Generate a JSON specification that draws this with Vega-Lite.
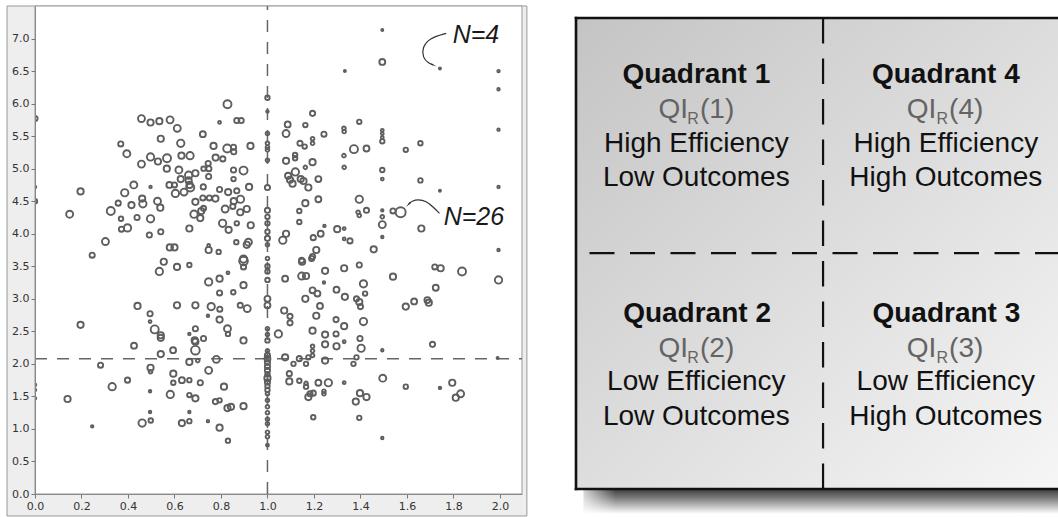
{
  "$schema": "https://vega.github.io/schema/vega-lite/v6.json",
  "background": "white",
  "padding": {"left": 5, "top": 5, "right": 0, "bottom": 0},
  "spacing": 38,
  "config": {"view": {"stroke": null}},
  "datasets": {
    "frame": [{"x": -0.1204, "x2": 2.116, "y": -0.338, "y2": 7.5}],
    "plotbg": [{"x": 0, "x2": 2.095, "y": 0, "y2": 7.5}],
    "refv": [{"x": 1.0, "y": 0, "y2": 7.5}],
    "refh": [{"x": 0, "x2": 2.095, "y": 2.08}],
    "pts": [
      {"x":0,"y":5.77,"n":12},{"x":0,"y":4.72,"n":5},{"x":0,"y":4.5,"n":10},{"x":0,"y":1.68,"n":5},{"x":0,"y":1.6,"n":5},{"x":0,"y":1.47,"n":5},
      {"x":0.828,"y":5.99,"n":20},{"x":0.458,"y":5.77,"n":17},{"x":0.497,"y":5.71,"n":15},{"x":0.535,"y":5.73,"n":15},{"x":0.581,"y":5.75,"n":17},{"x":0.612,"y":5.62,"n":17},{"x":0.722,"y":5.53,"n":14},{"x":0.794,"y":5.71,"n":6},{"x":0.868,"y":5.74,"n":12},{"x":0.887,"y":5.74,"n":12},
      {"x":0.369,"y":5.38,"n":12},{"x":0.541,"y":5.46,"n":15},{"x":0.627,"y":5.39,"n":18},{"x":0.395,"y":5.23,"n":17},{"x":0.497,"y":5.18,"n":18},{"x":0.458,"y":5.07,"n":17},{"x":0.529,"y":5.11,"n":15},{"x":0.568,"y":5.16,"n":20},{"x":0.567,"y":5.0,"n":15},{"x":0.63,"y":5.2,"n":15},{"x":0.667,"y":5.2,"n":18},
      {"x":0.768,"y":5.35,"n":15},{"x":0.827,"y":5.31,"n":20},{"x":0.854,"y":5.33,"n":12},{"x":0.855,"y":5.26,"n":12},{"x":0.927,"y":5.35,"n":15},{"x":0.777,"y":5.17,"n":15},{"x":0.808,"y":5.15,"n":12},{"x":0.745,"y":5.08,"n":12},{"x":0.748,"y":5.0,"n":12},{"x":0.725,"y":5.0,"n":10},
      {"x":0.619,"y":4.98,"n":17},{"x":0.661,"y":4.9,"n":18},{"x":0.69,"y":4.93,"n":15},{"x":0.897,"y":4.97,"n":20},{"x":0.854,"y":4.98,"n":12},{"x":0.747,"y":4.88,"n":12},{"x":0.854,"y":4.84,"n":10},{"x":0.627,"y":4.84,"n":15},{"x":0.661,"y":4.82,"n":15},{"x":0.668,"y":4.71,"n":20},{"x":0.578,"y":4.75,"n":14},{"x":0.6,"y":4.75,"n":12},{"x":0.724,"y":4.72,"n":12},{"x":0.604,"y":4.62,"n":18},{"x":0.641,"y":4.64,"n":17},{"x":0.665,"y":4.75,"n":15},
      {"x":0.425,"y":4.75,"n":17},{"x":0.497,"y":4.72,"n":5},{"x":0.386,"y":4.63,"n":18},{"x":0.196,"y":4.65,"n":15},{"x":0.149,"y":4.3,"n":17},{"x":0.326,"y":4.35,"n":20},{"x":0.358,"y":4.47,"n":12},{"x":0.415,"y":4.44,"n":15},{"x":0.461,"y":4.54,"n":15},{"x":0.464,"y":4.46,"n":18},{"x":0.527,"y":4.5,"n":17},{"x":0.539,"y":4.4,"n":15},{"x":0.497,"y":4.23,"n":18},{"x":0.439,"y":4.25,"n":12},{"x":0.37,"y":4.23,"n":10},{"x":0.398,"y":4.09,"n":18},{"x":0.372,"y":4.07,"n":12},{"x":0.492,"y":3.98,"n":12},{"x":0.541,"y":4.03,"n":12},
      {"x":0.69,"y":4.49,"n":15},{"x":0.722,"y":4.55,"n":12},{"x":0.75,"y":4.55,"n":12},{"x":0.776,"y":4.54,"n":15},{"x":0.715,"y":4.35,"n":15},{"x":0.725,"y":4.39,"n":12},{"x":0.684,"y":4.3,"n":18},{"x":0.711,"y":4.24,"n":15},{"x":0.794,"y":4.68,"n":12},{"x":0.831,"y":4.64,"n":15},{"x":0.868,"y":4.66,"n":12},{"x":0.921,"y":4.72,"n":15},{"x":0.855,"y":4.5,"n":15},{"x":0.884,"y":4.53,"n":18},{"x":0.818,"y":4.38,"n":17},{"x":0.851,"y":4.42,"n":12},{"x":0.883,"y":4.33,"n":15},{"x":0.911,"y":4.38,"n":15},{"x":0.807,"y":4.16,"n":18},{"x":0.833,"y":4.06,"n":15},{"x":0.868,"y":4.16,"n":10},{"x":0.928,"y":4.13,"n":15},{"x":0.664,"y":4.08,"n":15},{"x":0.866,"y":3.87,"n":10},{"x":0.911,"y":3.83,"n":15},{"x":0.918,"y":3.87,"n":17},{"x":0.303,"y":3.88,"n":17},{"x":0.246,"y":3.67,"n":12},{"x":0.58,"y":3.79,"n":15},{"x":0.6,"y":3.79,"n":15},{"x":0.747,"y":3.75,"n":15},{"x":0.79,"y":3.72,"n":10},{"x":0.747,"y":3.82,"n":6},{"x":0.897,"y":3.61,"n":18},
      {"x":1.0,"y":6.09,"n":10},{"x":1.0,"y":5.88,"n":5},{"x":1.0,"y":5.54,"n":8},{"x":1.0,"y":5.39,"n":8},{"x":1.0,"y":5.33,"n":8},{"x":1.0,"y":5.29,"n":8},{"x":1.0,"y":5.13,"n":8},{"x":1.0,"y":4.71,"n":12},{"x":1.0,"y":4.36,"n":12},{"x":1.0,"y":4.26,"n":10},{"x":1.0,"y":4.16,"n":10},{"x":1.0,"y":4.03,"n":10},{"x":1.0,"y":3.93,"n":12},{"x":1.0,"y":3.83,"n":8},{"x":1.0,"y":3.62,"n":8},{"x":1.0,"y":3.5,"n":10},{"x":1.0,"y":3.42,"n":10},{"x":1.0,"y":3.29,"n":10},{"x":1.0,"y":3.0,"n":14},{"x":1.0,"y":2.9,"n":14},{"x":1.0,"y":2.54,"n":8},{"x":1.0,"y":2.45,"n":8},{"x":1.0,"y":2.36,"n":10},{"x":1.0,"y":2.2,"n":8},{"x":1.0,"y":2.13,"n":12},{"x":1.0,"y":2.08,"n":14},{"x":1.0,"y":2.02,"n":12},{"x":1.0,"y":1.96,"n":12},{"x":1.0,"y":1.9,"n":12},{"x":1.0,"y":1.84,"n":10},{"x":1.0,"y":1.78,"n":15},{"x":1.0,"y":1.72,"n":12},{"x":1.0,"y":1.66,"n":10},{"x":1.0,"y":1.6,"n":10},{"x":1.0,"y":1.54,"n":8},{"x":1.0,"y":1.44,"n":8},{"x":1.0,"y":1.34,"n":8},{"x":1.0,"y":1.25,"n":8},{"x":1.0,"y":1.15,"n":8},{"x":1.0,"y":1.08,"n":8},{"x":1.0,"y":0.95,"n":8},{"x":1.0,"y":0.88,"n":8},{"x":1.0,"y":0.75,"n":6},
      {"x":1.494,"y":7.13,"n":4},{"x":1.494,"y":6.64,"n":14},{"x":1.333,"y":6.5,"n":4},{"x":1.742,"y":6.54,"n":4},{"x":1.994,"y":6.5,"n":5},{"x":1.994,"y":6.22,"n":5},{"x":1.994,"y":5.6,"n":5},{"x":1.494,"y":5.59,"n":6},{"x":1.494,"y":5.54,"n":6},{"x":1.494,"y":5.48,"n":6},{"x":1.494,"y":5.42,"n":10},{"x":1.658,"y":5.39,"n":10},{"x":1.595,"y":5.29,"n":10},{"x":1.426,"y":5.31,"n":14},{"x":1.372,"y":5.3,"n":20},{"x":1.329,"y":5.2,"n":8},{"x":1.33,"y":5.02,"n":8},{"x":1.494,"y":4.98,"n":10},{"x":1.494,"y":4.84,"n":6},{"x":1.658,"y":4.82,"n":10},{"x":1.742,"y":4.66,"n":4},{"x":1.994,"y":4.72,"n":5},{"x":1.395,"y":4.53,"n":18},{"x":1.426,"y":4.36,"n":12},{"x":1.39,"y":4.33,"n":8},{"x":1.494,"y":4.36,"n":5},{"x":1.54,"y":4.35,"n":12},{"x":1.573,"y":4.33,"n":26},{"x":1.494,"y":4.26,"n":8},{"x":1.494,"y":4.14,"n":17},{"x":1.662,"y":4.08,"n":15},{"x":1.494,"y":3.95,"n":5},{"x":1.994,"y":3.75,"n":5},{"x":1.457,"y":3.76,"n":15},{"x":1.33,"y":4.08,"n":6},{"x":1.33,"y":3.92,"n":6},{"x":1.355,"y":3.89,"n":12},{"x":1.3,"y":4.07,"n":15},{"x":1.245,"y":4.12,"n":5},{"x":1.229,"y":4.0,"n":14},{"x":1.197,"y":3.94,"n":12},{"x":1.21,"y":3.75,"n":15},{"x":1.19,"y":3.62,"n":12},{"x":1.147,"y":3.59,"n":12},{"x":1.08,"y":4.0,"n":15},{"x":1.066,"y":3.9,"n":18},{"x":1.137,"y":4.35,"n":10},{"x":1.137,"y":4.18,"n":10},{"x":1.219,"y":4.53,"n":14},{"x":1.163,"y":4.47,"n":15},{"x":1.395,"y":4.28,"n":8},
      {"x":1.194,"y":5.85,"n":12},{"x":1.087,"y":5.68,"n":14},{"x":1.163,"y":5.67,"n":10},{"x":1.08,"y":5.54,"n":17},{"x":1.243,"y":5.53,"n":12},{"x":1.329,"y":5.62,"n":8},{"x":1.33,"y":5.57,"n":8},{"x":1.395,"y":5.72,"n":10},{"x":1.14,"y":5.39,"n":12},{"x":1.16,"y":5.34,"n":10},{"x":1.194,"y":5.46,"n":8},{"x":1.194,"y":5.39,"n":8},{"x":1.119,"y":5.21,"n":10},{"x":1.119,"y":5.16,"n":10},{"x":1.08,"y":5.12,"n":15},{"x":1.194,"y":5.1,"n":15},{"x":1.163,"y":5.02,"n":8},{"x":1.12,"y":4.95,"n":18},{"x":1.089,"y":4.89,"n":15},{"x":1.097,"y":4.83,"n":15},{"x":1.108,"y":4.77,"n":15},{"x":1.143,"y":4.84,"n":15},{"x":1.155,"y":4.81,"n":15},{"x":1.176,"y":4.71,"n":15},{"x":1.219,"y":4.84,"n":14},
      {"x":0.554,"y":3.57,"n":15},{"x":0.535,"y":3.42,"n":18},{"x":0.611,"y":3.49,"n":15},{"x":0.664,"y":3.52,"n":10},{"x":0.441,"y":2.89,"n":15},{"x":0.495,"y":2.77,"n":12},{"x":0.495,"y":2.65,"n":6},{"x":0.515,"y":2.53,"n":20},{"x":0.541,"y":2.44,"n":15},{"x":0.541,"y":2.4,"n":15},{"x":0.611,"y":2.9,"n":15},{"x":0.69,"y":2.9,"n":15},{"x":0.196,"y":2.6,"n":15},{"x":0.426,"y":2.28,"n":14},{"x":0.541,"y":2.15,"n":15},{"x":0.594,"y":2.21,"n":14},{"x":0.664,"y":2.46,"n":5},{"x":0.69,"y":2.54,"n":12},{"x":0.69,"y":2.34,"n":15},{"x":0.69,"y":2.21,"n":22},{"x":0.664,"y":2.03,"n":15},{"x":0.282,"y":1.98,"n":12},{"x":0.497,"y":1.94,"n":15},{"x":0.497,"y":1.88,"n":8},{"x":0.398,"y":1.75,"n":12},{"x":0.332,"y":1.65,"n":18},{"x":0.14,"y":1.46,"n":15},{"x":0.595,"y":1.85,"n":15},{"x":0.595,"y":1.71,"n":10},{"x":0.632,"y":1.75,"n":14},{"x":0.664,"y":1.75,"n":10},{"x":0.582,"y":1.53,"n":18},{"x":0.664,"y":1.52,"n":10},{"x":0.69,"y":1.47,"n":15},{"x":0.495,"y":1.58,"n":5},{"x":0.495,"y":1.26,"n":5},{"x":0.461,"y":1.09,"n":18},{"x":0.498,"y":1.13,"n":10},{"x":0.632,"y":1.09,"n":15},{"x":0.664,"y":1.12,"n":10},{"x":0.664,"y":1.26,"n":5},{"x":0.246,"y":1.04,"n":5},
      {"x":0.687,"y":2.36,"n":15},{"x":0.725,"y":2.39,"n":12},{"x":0.7,"y":2.05,"n":8},{"x":0.747,"y":1.9,"n":17},{"x":0.78,"y":2.07,"n":17},{"x":0.711,"y":1.71,"n":12},{"x":0.776,"y":1.42,"n":12},{"x":0.794,"y":1.44,"n":10},{"x":0.813,"y":1.65,"n":15},{"x":0.828,"y":1.32,"n":15},{"x":0.843,"y":1.34,"n":15},{"x":0.897,"y":1.35,"n":15},{"x":0.794,"y":1.02,"n":15},{"x":0.83,"y":0.82,"n":10},{"x":0.744,"y":1.12,"n":5},{"x":0.747,"y":3.26,"n":18},{"x":0.794,"y":3.31,"n":15},{"x":0.83,"y":3.4,"n":6},{"x":0.897,"y":3.58,"n":22},{"x":0.897,"y":3.49,"n":12},{"x":0.897,"y":3.21,"n":15},{"x":0.794,"y":3.09,"n":12},{"x":0.853,"y":3.1,"n":10},{"x":0.758,"y":2.88,"n":18},{"x":0.795,"y":2.84,"n":12},{"x":0.744,"y":2.74,"n":5},{"x":0.794,"y":2.68,"n":15},{"x":0.883,"y":2.9,"n":12},{"x":0.913,"y":2.85,"n":17},{"x":0.828,"y":2.54,"n":17},{"x":0.83,"y":2.46,"n":10},{"x":0.897,"y":2.36,"n":15},
      {"x":1.076,"y":3.31,"n":14},{"x":1.149,"y":3.57,"n":15},{"x":1.194,"y":3.65,"n":12},{"x":1.147,"y":3.35,"n":17},{"x":1.166,"y":3.35,"n":15},{"x":1.248,"y":3.43,"n":15},{"x":1.243,"y":3.25,"n":5},{"x":1.33,"y":3.47,"n":15},{"x":1.395,"y":3.52,"n":12},{"x":1.194,"y":3.13,"n":14},{"x":1.215,"y":3.08,"n":14},{"x":1.163,"y":3.0,"n":15},{"x":1.297,"y":3.14,"n":14},{"x":1.333,"y":3.03,"n":15},{"x":1.383,"y":3.0,"n":12},{"x":1.395,"y":2.95,"n":15},{"x":1.4,"y":2.88,"n":12},{"x":1.42,"y":3.08,"n":10},{"x":1.226,"y":2.89,"n":14},{"x":1.072,"y":2.82,"n":15},{"x":1.097,"y":2.73,"n":12},{"x":1.097,"y":2.63,"n":12},{"x":1.21,"y":2.74,"n":15},{"x":1.047,"y":2.46,"n":18},{"x":1.194,"y":2.51,"n":15},{"x":1.248,"y":2.45,"n":15},{"x":1.295,"y":2.68,"n":12},{"x":1.33,"y":2.58,"n":15},{"x":1.295,"y":2.46,"n":12},{"x":1.33,"y":2.34,"n":6},{"x":1.248,"y":2.3,"n":15},{"x":1.297,"y":2.27,"n":15},{"x":1.194,"y":2.27,"n":8},{"x":1.194,"y":2.2,"n":8},{"x":1.194,"y":2.13,"n":8},{"x":1.398,"y":2.39,"n":12},{"x":1.403,"y":2.24,"n":18},{"x":1.076,"y":2.1,"n":15},{"x":1.112,"y":2.0,"n":10},{"x":1.137,"y":2.08,"n":12},{"x":1.166,"y":2.0,"n":10},{"x":1.176,"y":2.1,"n":10},{"x":1.248,"y":2.05,"n":15},{"x":1.37,"y":2.0,"n":10},{"x":1.383,"y":2.1,"n":10},
      {"x":1.094,"y":1.85,"n":12},{"x":1.094,"y":1.73,"n":15},{"x":1.137,"y":1.74,"n":10},{"x":1.166,"y":1.7,"n":8},{"x":1.166,"y":1.65,"n":10},{"x":1.219,"y":1.71,"n":14},{"x":1.262,"y":1.71,"n":18},{"x":1.33,"y":1.71,"n":6},{"x":1.197,"y":1.55,"n":12},{"x":1.176,"y":1.49,"n":15},{"x":1.183,"y":1.54,"n":12},{"x":1.243,"y":1.58,"n":8},{"x":1.243,"y":1.54,"n":8},{"x":1.197,"y":1.18,"n":10},{"x":1.38,"y":1.42,"n":15},{"x":1.398,"y":1.55,"n":15},{"x":1.426,"y":1.49,"n":15},{"x":1.395,"y":1.17,"n":10},
      {"x":1.72,"y":3.49,"n":12},{"x":1.745,"y":3.47,"n":15},{"x":1.837,"y":3.42,"n":20},{"x":1.994,"y":3.29,"n":18},{"x":1.54,"y":3.34,"n":15},{"x":1.413,"y":3.23,"n":18},{"x":1.724,"y":3.17,"n":14},{"x":1.595,"y":2.88,"n":15},{"x":1.631,"y":2.96,"n":14},{"x":1.688,"y":2.98,"n":14},{"x":1.694,"y":2.94,"n":15},{"x":1.413,"y":2.65,"n":18},{"x":1.494,"y":2.21,"n":5},{"x":1.71,"y":2.3,"n":12},{"x":1.99,"y":2.09,"n":4},{"x":1.496,"y":1.78,"n":17},{"x":1.595,"y":1.65,"n":10},{"x":1.742,"y":1.63,"n":5},{"x":1.795,"y":1.71,"n":15},{"x":1.831,"y":1.54,"n":17},{"x":1.81,"y":1.48,"n":15},{"x":1.494,"y":0.86,"n":5}
    ],
    "arrows": [
      {"g":"a","i":0,"x":1.769,"y":7.08},{"g":"a","i":1,"x":1.698,"y":7.012},{"g":"a","i":2,"x":1.665,"y":6.859},{"g":"a","i":3,"x":1.669,"y":6.705},{"g":"a","i":4,"x":1.69,"y":6.628},{"g":"a","i":5,"x":1.712,"y":6.595},
      {"g":"b","i":0,"x":1.74,"y":4.314},{"g":"b","i":1,"x":1.716,"y":4.4},{"g":"b","i":2,"x":1.683,"y":4.503},{"g":"b","i":3,"x":1.647,"y":4.529},{"g":"b","i":4,"x":1.622,"y":4.503},{"g":"b","i":5,"x":1.608,"y":4.46}
    ],
    "heads": [
      {"x":1.712,"y":6.595,"a":114},
      {"x":1.608,"y":4.455,"a":223}
    ],
    "notes": [
      {"x":1.897,"y":6.936,"t":"N=4"},
      {"x":1.888,"y":4.134,"t":"N=26"}
    ],
    "shadow": [{"x": 0.03, "x2": 2.1, "y": -0.105, "y2": 0.0}],
    "fade": [{"x": -0.01, "x2": 0.16, "y": -0.12, "y2": -0.004}],
    "box": [{"x": 0, "x2": 2.05, "y": 0, "y2": 2}],
    "borders": [
      {"x": 0, "x2": 2.1, "y": 2, "y2": 2},
      {"x": 0, "x2": 2.1, "y": 0, "y2": 0},
      {"x": 0, "x2": 0, "y": 0, "y2": 2}
    ],
    "divv": [{"x": 1, "x2": 1, "y": 2, "y2": 0}],
    "divh": [{"x": 0, "x2": 2.1, "y": 1.002, "y2": 1.002}],
    "qt": [
      {"x":0.487,"y":1.725,"t":"Quadrant 1"},{"x":1.497,"y":1.725,"t":"Quadrant 4"},
      {"x":0.49,"y":0.71,"t":"Quadrant 2"},{"x":1.499,"y":0.71,"t":"Quadrant 3"}
    ],
    "qb": [
      {"x":0.487,"y":1.432,"t":"High Efficiency"},{"x":0.487,"y":1.287,"t":"Low Outcomes"},
      {"x":1.497,"y":1.432,"t":"High Efficiency"},{"x":1.497,"y":1.287,"t":"High Outcomes"},
      {"x":0.487,"y":0.419,"t":"Low Efficiency"},{"x":0.487,"y":0.27,"t":"Low Outcomes"},
      {"x":1.497,"y":0.419,"t":"Low Efficiency"},{"x":1.497,"y":0.27,"t":"High Outcomes"}
    ],
    "qi": [
      {"x":0.4534,"y":1.574,"t":"QI"},{"x":1.4587,"y":1.574,"t":"QI"},
      {"x":0.4534,"y":0.5605,"t":"QI"},{"x":1.4587,"y":0.5605,"t":"QI"}
    ],
    "qr": [
      {"x":0.4502,"y":1.549,"t":"R"},{"x":1.4591,"y":1.549,"t":"R"},
      {"x":0.4502,"y":0.535,"t":"R"},{"x":1.4591,"y":0.535,"t":"R"}
    ],
    "qp": [
      {"x":0.502,"y":1.574,"t":"(1)"},{"x":1.51,"y":1.574,"t":"(4)"},
      {"x":0.502,"y":0.5605,"t":"(2)"},{"x":1.51,"y":0.5605,"t":"(3)"}
    ]
  },
  "hconcat": [
    {
      "width": 487,
      "height": 488,
      "encoding": {
        "x": {
          "field": "x", "type": "quantitative",
          "scale": {"domain": [0, 2.095], "nice": false, "zero": false},
          "axis": {
            "values": [0, 0.2, 0.4, 0.6, 0.8, 1.0, 1.2, 1.4, 1.6, 1.8, 2.0],
            "format": ".1f", "title": null, "grid": false,
            "labelFlush": false, "labelOverlap": false,
            "labelFont": "DejaVu Sans", "labelFontSize": 11, "labelColor": "#333333",
            "tickColor": "#777777", "tickSize": 4, "domainColor": "#888888",
            "labelPadding": 2, "zindex": 1
          }
        },
        "y": {
          "field": "y", "type": "quantitative",
          "scale": {"domain": [0, 7.5], "nice": false, "zero": false},
          "axis": {
            "values": [0, 0.5, 1.0, 1.5, 2.0, 2.5, 3.0, 3.5, 4.0, 4.5, 5.0, 5.5, 6.0, 6.5, 7.0],
            "format": ".1f", "title": null, "grid": false,
            "labelFlush": false, "labelOverlap": false,
            "labelFont": "DejaVu Sans", "labelFontSize": 11, "labelColor": "#333333",
            "tickColor": "#777777", "tickSize": 4, "domainColor": "#888888",
            "labelPadding": 2, "minExtent": 30, "maxExtent": 30, "zindex": 1
          }
        }
      },
      "layer": [
        {
          "data": {"name": "frame"},
          "mark": {"type": "rect", "fill": "#eeeeee", "stroke": "#999999", "strokeWidth": 1, "clip": false},
          "encoding": {"x2": {"field": "x2"}, "y2": {"field": "y2"}}
        },
        {
          "data": {"name": "plotbg"},
          "mark": {"type": "rect", "fill": "#ffffff", "stroke": "#999999", "strokeWidth": 1, "clip": false},
          "encoding": {"x2": {"field": "x2"}, "y2": {"field": "y2"}}
        },
        {
          "data": {"name": "refv"},
          "mark": {"type": "rule", "color": "#666666", "strokeWidth": 1.5, "strokeDash": [12, 10]},
          "encoding": {"y2": {"field": "y2"}}
        },
        {
          "data": {"name": "refh"},
          "mark": {"type": "rule", "color": "#666666", "strokeWidth": 1.5, "strokeDash": [12, 10]},
          "encoding": {"x2": {"field": "x2"}}
        },
        {
          "data": {"name": "pts"},
          "mark": {"type": "point", "shape": "circle", "filled": false, "color": "#5e5e5e", "strokeWidth": 1.9, "opacity": 1, "clip": true},
          "encoding": {
            "size": {"field": "n", "type": "quantitative", "scale": {"type": "pow", "exponent": 1.7, "domain": [0, 26], "range": [0, 100]}, "legend": null}
          }
        },
        {
          "data": {"name": "arrows"},
          "mark": {"type": "line", "interpolate": "basis", "color": "#333333", "strokeWidth": 1.2},
          "encoding": {"detail": {"field": "g", "type": "nominal"}, "order": {"field": "i", "type": "quantitative"}}
        },
        {
          "data": {"name": "heads"},
          "mark": {"type": "point", "shape": "wedge", "filled": true, "color": "#333333", "size": 50, "opacity": 1},
          "encoding": {"angle": {"field": "a", "type": "quantitative", "scale": null}}
        },
        {
          "data": {"name": "notes"},
          "mark": {"type": "text", "font": "Liberation Sans", "fontStyle": "italic", "fontSize": 25, "color": "#1a1a1a", "align": "center", "baseline": "alphabetic"},
          "encoding": {"text": {"field": "t", "type": "nominal"}}
        }
      ]
    },
    {
      "width": 493,
      "height": 512,
      "encoding": {
        "x": {"field": "x", "type": "quantitative", "scale": {"domain": [-0.0405, 1.955], "nice": false, "zero": false}, "axis": null},
        "y": {"field": "y", "type": "quantitative", "scale": {"domain": [-0.123, 2.051], "nice": false, "zero": false}, "axis": null}
      },
      "layer": [
        {
          "data": {"name": "shadow"},
          "mark": {"type": "rect", "clip": true, "color": {"gradient": "linear", "x1": 0, "y1": 0, "x2": 0, "y2": 1, "stops": [{"offset": 0, "color": "#3c3c3c"}, {"offset": 0.35, "color": "#7a7a7a"}, {"offset": 1, "color": "#ffffff"}]}},
          "encoding": {"x2": {"field": "x2"}, "y2": {"field": "y2"}}
        },
        {
          "data": {"name": "fade"},
          "mark": {"type": "rect", "clip": true, "color": {"gradient": "linear", "x1": 0, "y1": 0, "x2": 1, "y2": 0, "stops": [{"offset": 0, "color": "#ffffff"}, {"offset": 1, "color": "rgba(255,255,255,0)"}]}},
          "encoding": {"x2": {"field": "x2"}, "y2": {"field": "y2"}}
        },
        {
          "data": {"name": "box"},
          "mark": {"type": "rect", "clip": true, "color": {"gradient": "linear", "x1": 0, "y1": 0, "x2": 1, "y2": 1, "stops": [{"offset": 0, "color": "#c4c4c4"}, {"offset": 1, "color": "#f7f7f7"}]}},
          "encoding": {"x2": {"field": "x2"}, "y2": {"field": "y2"}}
        },
        {
          "data": {"name": "borders"},
          "mark": {"type": "rule", "clip": true, "color": "#111111", "strokeWidth": 2.6, "strokeCap": "square"},
          "encoding": {"x2": {"field": "x2"}, "y2": {"field": "y2"}}
        },
        {
          "data": {"name": "divv"},
          "mark": {"type": "rule", "clip": true, "color": "#111111", "strokeWidth": 2.2, "strokeDash": [25.5, 15]},
          "encoding": {"x2": {"field": "x2"}, "y2": {"field": "y2"}}
        },
        {
          "data": {"name": "divh"},
          "mark": {"type": "rule", "clip": true, "color": "#111111", "strokeWidth": 2.2, "strokeDash": [25, 15.5], "strokeDashOffset": 27},
          "encoding": {"x2": {"field": "x2"}, "y2": {"field": "y2"}}
        },
        {
          "data": {"name": "qt"},
          "mark": {"type": "text", "clip": true, "font": "Liberation Sans", "fontWeight": "bold", "fontSize": 28, "color": "#111111", "align": "center", "baseline": "alphabetic"},
          "encoding": {"text": {"field": "t", "type": "nominal"}}
        },
        {
          "data": {"name": "qb"},
          "mark": {"type": "text", "clip": true, "font": "Liberation Sans", "fontSize": 28, "color": "#111111", "align": "center", "baseline": "alphabetic"},
          "encoding": {"text": {"field": "t", "type": "nominal"}}
        },
        {
          "data": {"name": "qi"},
          "mark": {"type": "text", "clip": true, "font": "Liberation Sans", "fontSize": 28, "color": "#646464", "align": "right", "baseline": "alphabetic"},
          "encoding": {"text": {"field": "t", "type": "nominal"}}
        },
        {
          "data": {"name": "qr"},
          "mark": {"type": "text", "clip": true, "font": "Liberation Sans", "fontSize": 16, "color": "#646464", "align": "left", "baseline": "alphabetic"},
          "encoding": {"text": {"field": "t", "type": "nominal"}}
        },
        {
          "data": {"name": "qp"},
          "mark": {"type": "text", "clip": true, "font": "Liberation Sans", "fontSize": 28, "color": "#646464", "align": "left", "baseline": "alphabetic"},
          "encoding": {"text": {"field": "t", "type": "nominal"}}
        }
      ]
    }
  ]
}
